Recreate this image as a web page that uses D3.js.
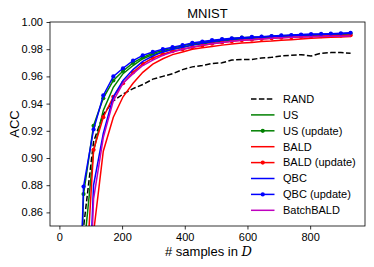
<!DOCTYPE html>
<html>
<head>
<meta charset="utf-8">
<script src="https://cdn.jsdelivr.net/npm/d3@7"></script>
<style>
  body { margin: 0; background: #fff; }
  svg text { font-family: "Liberation Sans", Arial, sans-serif; fill: #000; }
</style>
</head>
<body>
<svg id="chart"></svg>
<script>
// sample counts (x) shared by every method
var samples = [45, 77, 109, 140, 172, 203, 235, 266, 298, 330, 361, 393, 424, 456, 487, 519,
               550, 582, 614, 645, 677, 708, 740, 771, 803, 835, 866, 898, 929];

var rand = [0.70, 0.849, 0.912, 0.932, 0.942, 0.947, 0.951, 0.954, 0.958, 0.960, 0.962, 0.965,
            0.967, 0.968, 0.9695, 0.970, 0.972, 0.9725, 0.9725, 0.9735, 0.974, 0.975, 0.9755,
            0.976, 0.975, 0.977, 0.9775, 0.9775, 0.977];
var us = [0.55, 0.83, 0.905, 0.935, 0.952, 0.962, 0.968, 0.973, 0.976, 0.978, 0.980, 0.9815,
          0.983, 0.984, 0.985, 0.986, 0.9868, 0.9875, 0.988, 0.9885, 0.989, 0.9893, 0.9897,
          0.990, 0.9903, 0.9905, 0.9907, 0.991, 0.9912];
var usUpd = [0.64, 0.8735, 0.9237, 0.944, 0.957, 0.964, 0.970, 0.974, 0.977, 0.979, 0.9808,
             0.9825, 0.984, 0.985, 0.986, 0.987, 0.9878, 0.9885, 0.9888, 0.989, 0.9894, 0.9898,
             0.990, 0.9903, 0.9906, 0.9908, 0.991, 0.9912, 0.9915];
var bald = [0.40, 0.60, 0.845, 0.905, 0.930, 0.945, 0.955, 0.963, 0.969, 0.973, 0.976, 0.978,
            0.980, 0.981, 0.982, 0.983, 0.9838, 0.9845, 0.985, 0.9856, 0.986, 0.9866, 0.987,
            0.9875, 0.988, 0.9885, 0.9888, 0.989, 0.9893];
var baldUpd = [0.50, 0.78, 0.906, 0.930, 0.945, 0.955, 0.963, 0.9693, 0.9735, 0.9763, 0.9785,
               0.980, 0.9815, 0.9828, 0.984, 0.985, 0.9858, 0.9865, 0.987, 0.9875, 0.988,
               0.9885, 0.9888, 0.989, 0.9893, 0.9896, 0.9898, 0.990, 0.9903];
var qbc = [0.40, 0.70, 0.88, 0.918, 0.945, 0.957, 0.965, 0.971, 0.975, 0.978, 0.980, 0.9815,
           0.983, 0.9845, 0.9855, 0.9865, 0.9873, 0.988, 0.9885, 0.989, 0.9893, 0.9897, 0.990,
           0.9903, 0.9906, 0.9909, 0.9911, 0.9914, 0.9918];
var qbcUpd = [0.647, 0.879, 0.921, 0.946, 0.960, 0.966, 0.9716, 0.9755, 0.978, 0.980, 0.9815,
              0.983, 0.9846, 0.9856, 0.9866, 0.9874, 0.988, 0.9885, 0.989, 0.9892, 0.9897,
              0.9901, 0.9904, 0.9908, 0.9911, 0.9912, 0.9914, 0.9917, 0.9921];
var batchBald = [0.40, 0.68, 0.87, 0.915, 0.942, 0.955, 0.962, 0.968, 0.972, 0.9755, 0.978,
                 0.980, 0.9815, 0.983, 0.984, 0.985, 0.9858, 0.9865, 0.987, 0.9875, 0.988,
                 0.9884, 0.9887, 0.989, 0.9892, 0.9894, 0.9895, 0.9896, 0.9897];

var xTicks = [0, 200, 400, 600, 800];
var yTicks = [0.86, 0.88, 0.90, 0.92, 0.94, 0.96, 0.98, 1.00];

var series = [
  {name: "RAND", values: rand, color: "#000000", dash: "5.5,2.4", dots: false},
  {name: "US", values: us, color: "#008000", dash: null, dots: false},
  {name: "US (update)", values: usUpd, color: "#008000", dash: null, dots: true},
  {name: "BALD", values: bald, color: "#ff0000", dash: null, dots: false},
  {name: "BALD (update)", values: baldUpd, color: "#ff0000", dash: null, dots: true},
  {name: "QBC", values: qbc, color: "#0000ff", dash: null, dots: false},
  {name: "QBC (update)", values: qbcUpd, color: "#0000ff", dash: null, dots: true},
  {name: "BatchBALD", values: batchBald, color: "#bf00bf", dash: null, dots: false}
];

var W = 374, H = 267;
var margin = {top: 22, right: 9, bottom: 41, left: 50};
var width = W - margin.left - margin.right;
var height = H - margin.top - margin.bottom;

var svg = d3.select("#chart").attr("width", W).attr("height", H);
var g = svg.append("g").attr("transform", "translate(" + margin.left + "," + margin.top + ")");

var x = d3.scaleLinear().domain([-30, 975]).range([0, width]);
var y = d3.scaleLinear().domain([0.85, 1.0]).range([height, 0]);

g.append("defs").append("clipPath").attr("id", "clip")
  .append("rect").attr("width", width).attr("height", height);

var plot = g.append("g").attr("clip-path", "url(#clip)");

var line = d3.line()
  .x(function(d, i) { return x(samples[i]); })
  .y(function(d) { return y(d); });

series.forEach(function(s) {
  plot.append("path")
    .datum(s.values)
    .attr("fill", "none")
    .attr("stroke", s.color)
    .attr("stroke-width", 1.5)
    .attr("stroke-dasharray", s.dash)
    .attr("d", line);
  if (s.dots) {
    plot.selectAll(null).data(s.values).enter().append("circle")
      .attr("cx", function(d, i) { return x(samples[i]); })
      .attr("cy", function(d) { return y(d); })
      .attr("r", 2.1)
      .attr("fill", s.color);
  }
});

// axes
var xAxis = d3.axisBottom(x).tickValues(xTicks).tickSize(3.5).tickPadding(3.5);
var yAxis = d3.axisLeft(y).tickValues(yTicks).tickSize(3.5).tickPadding(3.5)
  .tickFormat(d3.format(".2f"));

var xG = g.append("g").attr("transform", "translate(0," + height + ")").call(xAxis);
var yG = g.append("g").call(yAxis);
[xG, yG].forEach(function(a) {
  a.select(".domain").remove();
  a.selectAll("line").attr("stroke", "#000").attr("stroke-width", 0.8);
  a.selectAll("text").style("font-size", "11px").attr("fill", "#000");
});

g.append("rect")
  .attr("width", width).attr("height", height)
  .attr("fill", "none").attr("stroke", "#000").attr("stroke-width", 0.8);

// titles
svg.append("text")
  .attr("x", margin.left + width / 2).attr("y", 17.5)
  .attr("text-anchor", "middle").style("font-size", "13px")
  .text("MNIST");

svg.append("text")
  .attr("transform", "translate(18.5," + (margin.top + height / 2) + ") rotate(-90)")
  .attr("text-anchor", "middle").style("font-size", "13px")
  .text("ACC");

var xl = svg.append("text")
  .attr("x", margin.left + width / 2 + 1).attr("y", 256)
  .attr("text-anchor", "middle").style("font-size", "13px");
xl.append("tspan").text("# samples in ");
xl.append("tspan").style("font-family", "'DejaVu Serif', serif").style("font-style", "italic").text("D");

// legend
var legend = g.append("g").attr("transform", "translate(" + (251 - margin.left) + "," + (99 - margin.top) + ")");
series.forEach(function(s, i) {
  var row = legend.append("g").attr("transform", "translate(0," + (i * 15.9) + ")");
  row.append("line")
    .attr("x1", 0).attr("x2", 23.5)
    .attr("stroke", s.color).attr("stroke-width", 1.5)
    .attr("stroke-dasharray", s.dash);
  if (s.dots) {
    row.append("circle").attr("cx", 11.75).attr("r", 2.1).attr("fill", s.color);
  }
  row.append("text")
    .attr("x", 32).attr("dy", "0.35em")
    .style("font-size", "11px")
    .text(s.name);
});
</script>
</body>
</html>
